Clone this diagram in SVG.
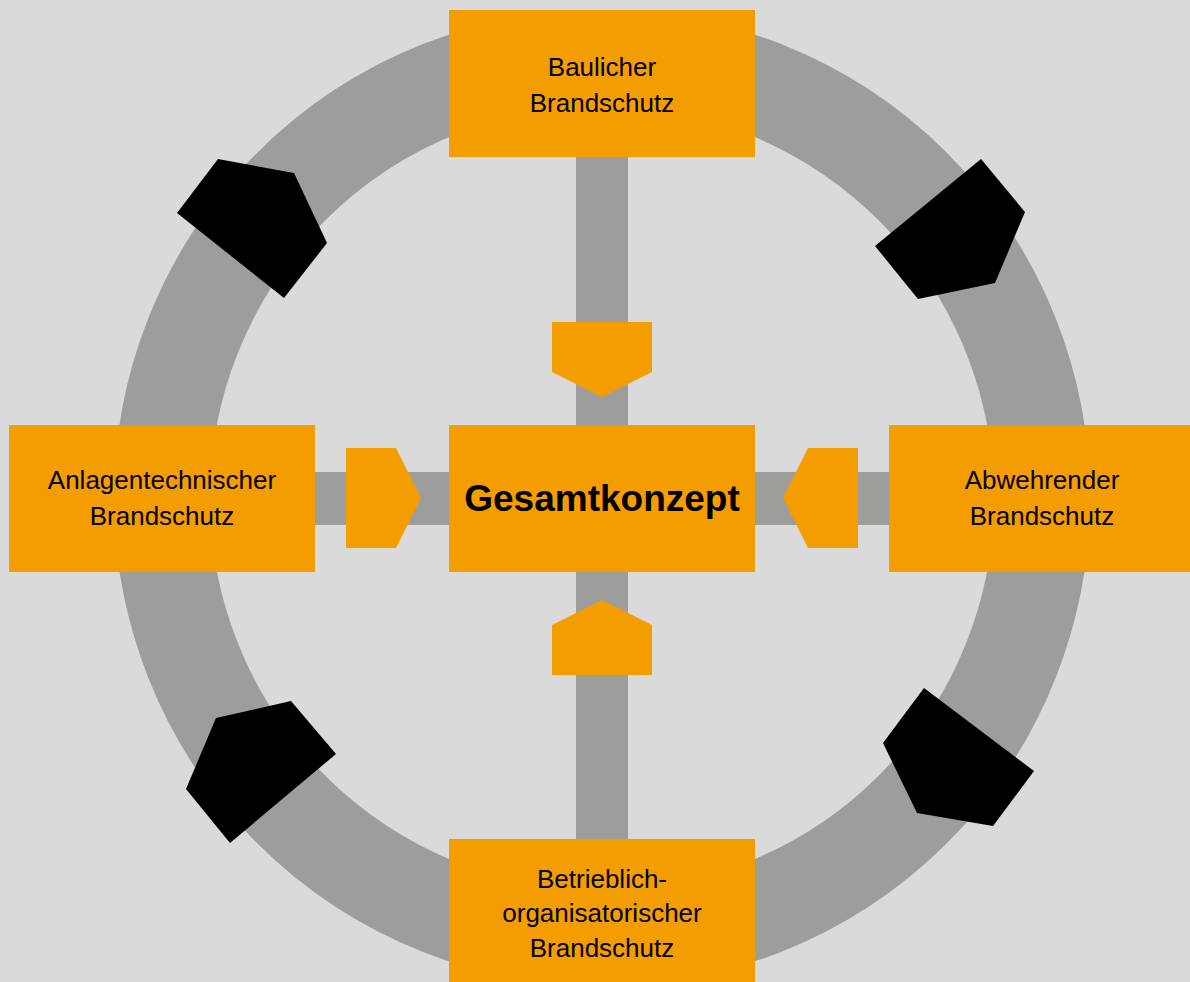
<svg xmlns="http://www.w3.org/2000/svg" width="1190" height="982" viewBox="0 0 1190 982">
<style>
.box{fill:#f49d00}
.arr{fill:#f49d00}
.blk{fill:#000}
.lbl{font-family:"Liberation Sans",Arial,sans-serif;font-size:26px;fill:#000;text-anchor:middle}
.main{font-family:"Liberation Sans",Arial,sans-serif;font-size:37px;font-weight:bold;fill:#000;text-anchor:middle}
.bar{fill:#9d9d9b}
</style>
<rect width="1190" height="982" fill="#dadada"/>
<g id="connectors">
<circle cx="602" cy="498" r="440" fill="none" stroke="#9d9d9b" stroke-width="96"/>
<rect class="bar" x="576" y="100" width="52" height="800"/>
<rect class="bar" x="250" y="472" width="700" height="53"/>
<polygon class="arr" points="552,322 652,322 652,372 602,397 552,372"/>
<polygon class="arr" points="552,675 552,625 602,600 652,625 652,675"/>
<polygon class="arr" points="346,448 396,448 421,498 396,548 346,548"/>
<polygon class="arr" points="858,448 808,448 783,498 808,548 858,548"/>
<polygon class="blk" points="218,159 294,173 327,243 284,298 177,213"/>
<polygon class="blk" points="981,159 1025,212 995,283 918,299 875,246"/>
<polygon class="blk" points="216,718 291,701 336,754 230,843 186,789"/>
<polygon class="blk" points="924,688 1034,771 993,826 917,813 883,743"/>
</g>
<g id="baulicher">
<rect class="box" x="449" y="10" width="306" height="147"/>
<text class="lbl" x="602" y="76">Baulicher</text>
<text class="lbl" x="602" y="111.7">Brandschutz</text>
</g>
<g id="gesamtkonzept">
<rect class="box" x="449" y="425" width="306" height="147"/>
<text class="main" x="602" y="511">Gesamtkonzept</text>
</g>
<g id="anlagentechnischer">
<rect class="box" x="9" y="425" width="306" height="147"/>
<text class="lbl" x="162" y="489.3">Anlagentechnischer</text>
<text class="lbl" x="162" y="525">Brandschutz</text>
</g>
<g id="abwehrender">
<rect class="box" x="889" y="425" width="301" height="147"/>
<text class="lbl" x="1042" y="489.3">Abwehrender</text>
<text class="lbl" x="1042" y="525">Brandschutz</text>
</g>
<g id="betrieblich">
<rect class="box" x="449" y="839" width="306" height="143"/>
<text class="lbl" x="602" y="888.3">Betrieblich-</text>
<text class="lbl" x="602" y="922">organisatorischer</text>
<text class="lbl" x="602" y="956.7">Brandschutz</text>
</g>
</svg>
